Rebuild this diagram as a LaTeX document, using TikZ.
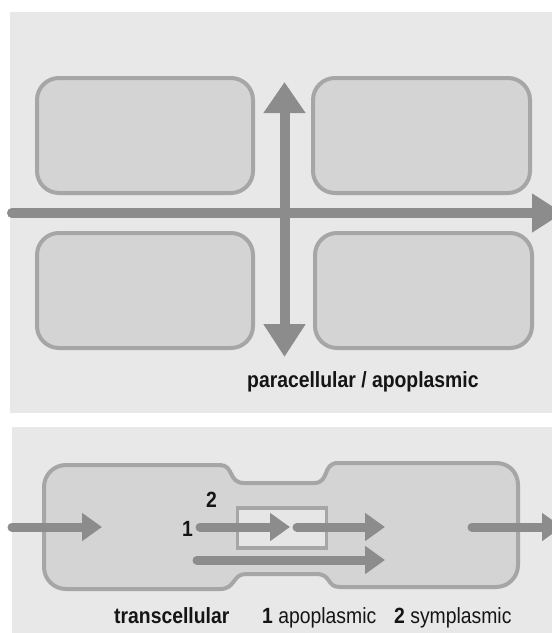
\documentclass[tikz,border=0pt]{standalone}
\usepackage{fontspec}
\setmainfont{Liberation Sans}[FakeStretch=0.88]
\usetikzlibrary{arrows.meta}

\definecolor{panelbg}{HTML}{E8E8E8}
\definecolor{cellfill}{HTML}{D4D4D4}
\definecolor{cellline}{HTML}{A6A6A6}
\definecolor{flow}{HTML}{8C8C8C}
\definecolor{wallfill}{HTML}{E6E6E6}
\definecolor{ink}{HTML}{151515}

\begin{document}
\begin{tikzpicture}[x=1pt,y=-1pt,
  panel/.style={fill=panelbg,draw=none},
  cellbox/.style={draw=cellline,fill=cellfill,line width=4pt,rounded corners=22pt,
    minimum width=216pt,minimum height=115pt,inner sep=0pt},
  bigflow/.style={draw=flow,line width=10pt,line cap=round},
  smallflow/.style={draw=flow,line width=9pt,line cap=round,
    -{Triangle[width=27pt,length=20pt]}},
  lab/.style={inner sep=0pt,text=ink,font=\fontsize{22}{26}\selectfont},
]
\useasboundingbox (0,0) rectangle (552,633);
\clip (0,0) rectangle (552,633);

% ---------- paracellular panel ----------
\fill[panel] (10,12) rectangle (552,413);

\node[cellbox] (tl) at (145,135.5) {};
\node[cellbox,minimum width=217pt] (tr) at (421.5,135.5) {};
\node[cellbox] (bl) at (145,290.5) {};
\node[cellbox,minimum width=217pt] (br) at (423.5,290.5) {};

\coordinate (hL) at (12,213);
\coordinate (hR) at (563,213);
\coordinate (vT) at (284.5,82);
\coordinate (vB) at (284.5,357);

\draw[bigflow,-{Triangle[width=37pt,length=31pt]}] (hL) -- (hR);
\draw[bigflow,{Triangle[width=40pt,length=31pt]}-{Triangle[width=40pt,length=33pt]},line cap=butt] (vT) -- (vB);

\node[lab,font=\fontsize{22}{26}\selectfont\bfseries,anchor=base west] (para) at (247,387)
  {paracellular / apoplasmic};

% ---------- transcellular panel ----------
\fill[panel] (12,427) rectangle (552,633);

% two cells joined by a narrow bridge
\draw[draw=cellline,fill=cellfill,line width=4pt]
  (44,487) .. controls (44,474.8) and (53.8,465) .. (66,465)
  -- (220,465) .. controls (234,465) and (228,483) .. (244,483)
  -- (314,483) .. controls (330,483) and (322,463) .. (338,463)
  -- (496,463) .. controls (508.7,463) and (518,472.3) .. (518,485)
  -- (518,565) .. controls (518,577.2) and (508.2,587) .. (496,587)
  -- (340,587) .. controls (326,587) and (332,574) .. (316,574)
  -- (246,574) .. controls (232,574) and (236,589) .. (220,589)
  -- (66,589) .. controls (53.8,589) and (44,579.2) .. (44,567)
  -- cycle;

% cell wall section crossed by the apoplasmic route
\node[draw=cellline,fill=wallfill,line width=3.5pt,minimum width=89pt,minimum height=40pt,
  inner sep=0pt] (wall) at (282,528) {};

\coordinate (inS) at (12,527);
\coordinate (inE) at (102,527);
\coordinate (aS) at (200,527);
\coordinate (aE) at (290,527);
\coordinate (bS) at (297,527);
\coordinate (bE) at (385,527);
\coordinate (sS) at (197,560);
\coordinate (sE) at (385,560);
\coordinate (oS) at (472,527);
\coordinate (oE) at (562,527);

\draw[smallflow] (inS) -- (inE);
\draw[smallflow] (aS) -- (aE);
\draw[smallflow] (bS) -- (bE);
\draw[smallflow] (sS) -- (sE);
\draw[smallflow] (oS) -- (oE);

\node[lab,font=\fontsize{22}{26}\selectfont\bfseries,anchor=base] (n2) at (211.5,507) {2};
\node[lab,font=\fontsize{22}{26}\selectfont\bfseries,anchor=base] (n1) at (187.5,536) {1};

\node[lab,font=\fontsize{22}{26}\selectfont\bfseries,anchor=base west] (trans) at (114,623) {transcellular};
\node[lab,anchor=base west] (apo) at (262,623) {\textbf{1} apoplasmic};
\node[lab,anchor=base west] (sym) at (394,623) {\textbf{2} symplasmic};
\end{tikzpicture}
\end{document}
